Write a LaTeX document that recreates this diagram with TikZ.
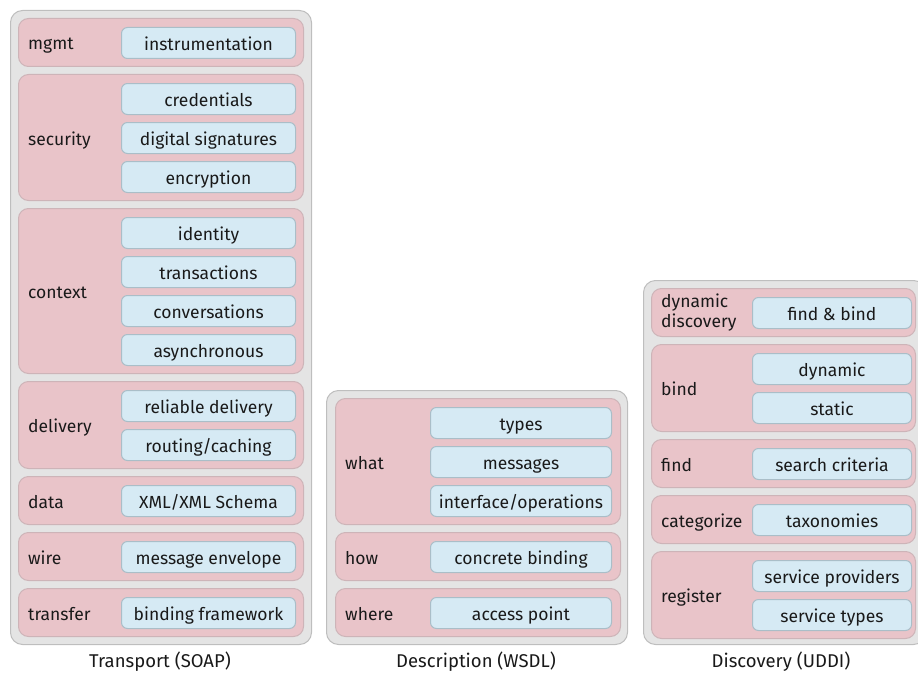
\documentclass[tikz,border=0pt]{standalone}
\usepackage{fontspec}
\setmainfont{Fira Sans}
\definecolor{boxgray}{RGB}{228,228,228}
\definecolor{grayedge}{RGB}{190,190,190}
\definecolor{pinkfill}{RGB}{233,196,201}
\definecolor{pinkedge}{RGB}{205,180,184}
\definecolor{bluefill}{RGB}{214,234,244}
\definecolor{blueedge}{RGB}{170,190,200}
\definecolor{ink}{RGB}{25,25,25}
\tikzset{
  panel/.style={draw=grayedge, fill=boxgray, rounded corners=12pt, line width=1pt,
    anchor=north west, inner sep=0pt, minimum width=#1},
  layer/.style={draw=pinkedge, fill=pinkfill, rounded corners=10pt, line width=1pt,
    anchor=north west, inner sep=0pt, minimum width=#1},
  item/.style={draw=blueedge, fill=bluefill, rounded corners=6pt, line width=1pt,
    anchor=north west, inner sep=0pt, minimum height=31pt, minimum width=#1,
    text height=16pt, text depth=1pt,
    font=\fontsize{17.5}{20}\selectfont, text=ink},
  lbl/.style={anchor=base west, align=left, inner sep=0pt,
    font=\fontsize{17.5}{20}\selectfont, text=ink},
  caption/.style={anchor=base, inner sep=0pt, font=\fontsize{18.5}{20}\selectfont, text=ink},
}
\begin{document}
\begin{tikzpicture}[x=1pt,y=-1pt]
\useasboundingbox (0,0) rectangle (918,677);
\begin{scope}
\clip (0,0) rectangle (918,677);
% ---------------- Transport (SOAP) ----------------
\node[panel=301pt, minimum height=634pt] (soap) at (10,10) {};
\node[layer=285pt, minimum height=48pt] (mgmt) at (18,18) {};
\node[lbl] (mgmt-l) at (28,50) {mgmt};
\node[item=174pt] (instr) at (121,27) {instrumentation};

\node[layer=285pt, minimum height=126pt] (sec) at (18,74) {};
\node[lbl] (sec-l) at (28,145) {security};
\node[item=174pt] (cred) at (121,83) {credentials};
\node[item=174pt] (dsig) at (121,122) {digital signatures};
\node[item=174pt] (encr) at (121,161) {encryption};

\node[layer=285pt, minimum height=165pt] (ctx) at (18,208) {};
\node[lbl] (ctx-l) at (28,298.5) {context};
\node[item=174pt] (ident) at (121,217) {identity};
\node[item=174pt] (trans) at (121,256) {transactions};
\node[item=174pt] (conv) at (121,295) {conversations};
\node[item=174pt] (async) at (121,334) {asynchronous};

\node[layer=285pt, minimum height=87pt] (deliv) at (18,381) {};
\node[lbl] (deliv-l) at (28,432.5) {delivery};
\node[item=174pt] (rel) at (121,390) {reliable delivery};
\node[item=174pt] (rout) at (121,429) {routing/caching};

\node[layer=285pt, minimum height=48pt] (data) at (18,476) {};
\node[lbl] (data-l) at (28,508) {data};
\node[item=174pt] (xml) at (121,485) {XML/XML Schema};

\node[layer=285pt, minimum height=48pt] (wire) at (18,532) {};
\node[lbl] (wire-l) at (28,564) {wire};
\node[item=174pt] (env) at (121,541) {message envelope};

\node[layer=285pt, minimum height=48pt] (xfer) at (18,588) {};
\node[lbl] (xfer-l) at (28,620) {transfer};
\node[item=174pt] (bind-fw) at (121,597) {binding framework};

% ---------------- Description (WSDL) ----------------
\node[panel=301pt, minimum height=254pt] (wsdl) at (326,390) {};
\node[layer=285pt, minimum height=126pt] (what) at (335,398) {};
\node[lbl] (what-l) at (345,469) {what};
\node[item=181pt] (types) at (430,407) {types};
\node[item=181pt] (msgs) at (430,446) {messages};
\node[item=181pt] (iface) at (430,485) {interface/operations};

\node[layer=285pt, minimum height=48pt] (how) at (335,532) {};
\node[lbl] (how-l) at (345,564) {how};
\node[item=181pt] (concrete) at (430,541) {concrete binding};

\node[layer=285pt, minimum height=48pt] (where) at (335,588) {};
\node[lbl] (where-l) at (345,620) {where};
\node[item=181pt] (access) at (430,597) {access point};

% ---------------- Discovery (UDDI) ----------------
\node[panel=282pt, minimum height=364pt] (uddi) at (643,280) {};
\node[layer=264pt, minimum height=48pt] (dyn) at (651,288) {};
\node[lbl, anchor=north west] (dyn-l) at (661,294) {dynamic\\discovery};
\node[item=159pt] (findbind) at (752,297) {find \& bind};

\node[layer=264pt, minimum height=87pt] (bind) at (651,344) {};
\node[lbl] (bind-l) at (661,395.5) {bind};
\node[item=159pt] (dynb) at (752,353) {dynamic};
\node[item=159pt] (statb) at (752,392) {static};

\node[layer=264pt, minimum height=48pt] (find) at (651,439) {};
\node[lbl] (find-l) at (661,471) {find};
\node[item=159pt] (search) at (752,448) {search criteria};

\node[layer=264pt, minimum height=48pt] (cat) at (651,495) {};
\node[lbl] (cat-l) at (661,527) {categorize};
\node[item=159pt] (taxo) at (752,504) {taxonomies};

\node[layer=264pt, minimum height=87pt] (reg) at (651,551) {};
\node[lbl] (reg-l) at (661,602.5) {register};
\node[item=159pt] (sprov) at (752,560) {service providers};
\node[item=159pt] (stypes) at (752,599) {service types};
\end{scope}

% ---------------- captions ----------------
\node[caption] (cap-soap) at (160,667) {Transport (SOAP)};
\node[caption] (cap-wsdl) at (476,667) {Description (WSDL)};
\node[caption] (cap-uddi) at (781,667) {Discovery (UDDI)};
\end{tikzpicture}
\end{document}
